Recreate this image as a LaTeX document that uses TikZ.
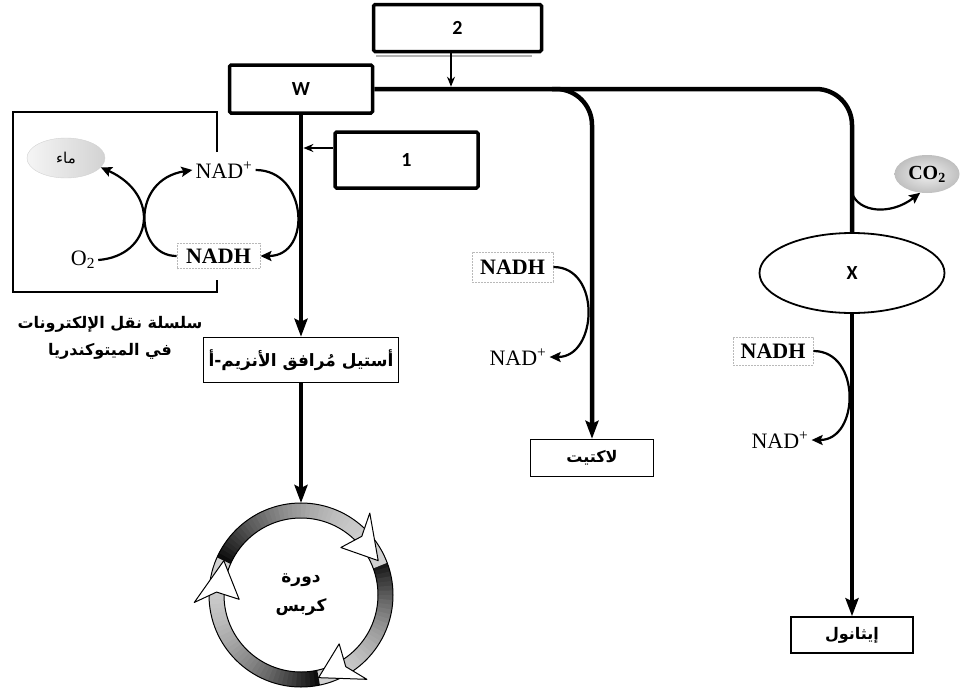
\documentclass[tikz,border=0pt]{standalone}
\usepackage{fontspec}
\setmainfont{Liberation Serif}
\newfontfamily\arabicfont[Script=Arabic]{DejaVu Sans}
\newfontfamily\lblfont{Carlito}
\TeXXeTstate=1
\usetikzlibrary{arrows.meta,shapes.geometric,calc}
\begin{document}
\begin{tikzpicture}[x=1pt,y=-1pt,
 bigbox/.style={draw, line width=3.5pt, rounded corners=1.5pt, inner sep=0pt, font=\lblfont\bfseries\fontsize{20}{24}\selectfont},
 resbox/.style={draw, line width=1.5pt, inner sep=0pt, font=\arabicfont\bfseries\fontsize{16}{20}\selectfont},
 nadhbox/.style={draw=gray!55, line width=0.9pt, dash pattern=on 2pt off 1pt, inner sep=0pt, font=\bfseries\fontsize{22}{24}\selectfont},
 nadp/.style={inner sep=3pt, font=\fontsize{22}{24}\selectfont},
 mainline/.style={line width=4.5pt},
 mainarrow/.style={line width=4.5pt, -{Stealth[length=18pt,width=13pt,inset=3pt]}},
 curvearrow/.style={line width=2.2pt, -{Stealth[length=11pt,width=10pt,inset=2pt]}},
 thinarrow/.style={line width=1.5pt, -{Stealth[length=10pt,width=8pt]}},
 framebox/.style={line width=2.4pt},
 arab/.style={font=\arabicfont\bfseries\fontsize{16}{27}\selectfont},
 headw/.style={fill=white, draw=black, line width=1pt, line join=round},
]
\useasboundingbox (0,0) rectangle (961,691);

% top boxes
\node[bigbox, minimum width=168pt, minimum height=47pt] (b2) at (457.5,28) {2};
\draw[gray!60, line width=1.5pt] (376,56) -- (532,56);
\node[bigbox, minimum width=143pt, minimum height=48pt] (W) at (301,89) {W};
\node[bigbox, minimum width=143pt, minimum height=56pt] (b1) at (406.5,160) {1};

% end nodes
\node[resbox, minimum width=195pt, minimum height=45pt, font=\arabicfont\bfseries\fontsize{17}{20}\selectfont] (acet) at (301,360) {\beginR أستيل مُرافق الأنزيم-أ\endR};
\node[resbox, minimum width=123pt, minimum height=37pt] (lac) at (592,458) {\beginR لاكتيت\endR};
\node[resbox, minimum width=122pt, minimum height=36pt] (eth) at (852,635) {\beginR إيثانول\endR};
\node[draw, ellipse, line width=1.8pt, minimum width=185pt, minimum height=80pt, inner sep=0pt, font=\lblfont\bfseries\fontsize{20}{24}\selectfont] (X) at (852,273) {X};

% main lines
\coordinate (J) at (451,89);
\coordinate (br) at (552,89);
\draw[mainline, rounded corners=36pt] (W.east) -- (852,89) -- (X.north);
\draw[mainarrow, rounded corners=36pt] (br) -- (592,89) -- (lac.north);
\draw[mainarrow] (W.south) -- (acet.north);
\draw[mainarrow] (X.south) -- (eth.north);
\draw[thinarrow] (b2.south -| J) -- ([yshift=2.3pt]J);
\coordinate (A1) at (301,148);
\draw[thinarrow] (b1.west |- A1) -- ([xshift=2.4pt]A1);

% mitochondria frame
\draw[framebox] (217,152) -- (217,112) -- (13,112) -- (13,292) -- (217,292) -- (217,280);
\node[ellipse, minimum width=78pt, minimum height=40pt, inner sep=0pt, left color=gray!8, right color=gray!35, draw=gray!35, font=\arabicfont\fontsize{15}{18}\selectfont] (water) at (66,158) {\beginR ماء\endR};
\node[nadp] (n1) at (224,170) {NAD\textsuperscript{+}};
\node[nadp] (o2) at (83,260) {O\textsubscript{2}};
\node[nadhbox, minimum width=83pt, minimum height=25pt] (h1) at (218.5,256) {NADH};
\draw[curvearrow] (o2.east) .. controls (152,256) and (162,195) .. (water.-15);
\draw[curvearrow] (h1.west) .. controls (135,256) and (130,180) .. (n1.west);
\draw[curvearrow] (n1.east) .. controls +(52,0) and +(52,0) .. (h1.east);
\node[arab, align=center] (cap) at (110,338) {\beginR سلسلة نقل الإلكترونات\endR\\\beginR في الميتوكندريا\endR};

% lactate branch
\node[nadhbox, minimum width=81pt, minimum height=30pt] (h2) at (512.5,267) {NADH};
\node[nadp] (n2) at (518,357) {NAD\textsuperscript{+}};
\draw[curvearrow] (h2.east) .. controls +(48,0) and +(48,0) .. (n2.east);

% ethanol branch
\node[nadhbox, minimum width=80pt, minimum height=28pt] (h3) at (773,351) {NADH};
\node[nadp] (n3) at (780,440) {NAD\textsuperscript{+}};
\draw[curvearrow] (h3.east) .. controls +(48,0) and +(48,0) .. (n3.east);
\node[ellipse, minimum width=65pt, minimum height=38pt, inner sep=0pt, inner color=gray!12, outer color=gray!50, font=\bfseries\fontsize{20}{22}\selectfont] (co2) at (927,174) {CO\textsubscript{2}};
\coordinate (c0) at (852,193);
\draw[curvearrow] (c0) .. controls (858,212) and (890,216) .. (co2.250);

% Krebs cycle
\coordinate (K) at (301,595);
\coordinate (Ktop) at (301,503);
\draw[mainarrow] (acet.south) -- (Ktop);
\foreach \s/\e in {24/-78, -78/-204, 156/24}{
  \pgfmathtruncatemacro\N{(\s-\e)/3}
  \foreach \i in {0,...,\N}{
    \pgfmathsetmacro\a{\s-3*\i}
    \pgfmathtruncatemacro\p{18+77*(1-\i/\N)^2}
    \draw[black!\p!white, line width=15pt] ($(K)+(\a:84.5pt)$) arc[start angle=\a, end angle=\a-3.6, radius=84.5pt];
  }
}
\draw[black, line width=1pt] (K) circle[radius=92pt];
\draw[black, line width=1pt] (K) circle[radius=77pt];
\foreach \t/\b in {24/50, -78/-52, 156/184}{
  \draw[headw] ($(K)+(\b:107pt)$) -- ($(K)+(\t:84.5pt)$) -- ($(K)+(\b:62pt)$) -- ($(K)+(\b-6:84.5pt)$) -- cycle;
}
\node[arab, align=center, font=\arabicfont\bfseries\fontsize{17}{29}\selectfont] (krebs) at (K) {\beginR دورة\endR\\\beginR كربس\endR};
\end{tikzpicture}
\end{document}
